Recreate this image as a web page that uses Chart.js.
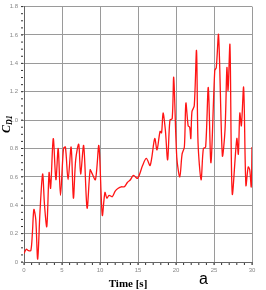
<!DOCTYPE html>
<html>
<head>
<meta charset="utf-8">
<script src="https://cdn.jsdelivr.net/npm/chart.js@4"></script>
<style>
  html, body { margin: 0; padding: 0; background: #fff; }
  #wrap { width: 266px; height: 290px; }
</style>
</head>
<body>
<div id="wrap"><canvas id="myChart" width="266" height="290"></canvas></div>
<script>
/* Cd1 vs time */

let time_s = [0, 0.3, 0.6, 0.9, 1.1, 1.3, 1.55, 1.8, 2.1, 2.45, 2.7, 3.0, 3.3, 3.5, 3.85, 4.2, 4.5, 4.8, 5.2, 5.45,
  5.8, 6.2, 6.5, 6.8, 7.2, 7.45, 7.85, 8.3, 8.7, 8.9, 9.4, 9.85, 10.3, 10.65, 10.9, 11.2, 11.6, 12.0, 12.4, 12.8,
  13.2, 13.6, 14.0, 14.4, 14.95, 15.6, 16.1, 16.6, 17.2, 17.5, 17.9, 18.1, 18.3, 18.6, 18.9, 19.2, 19.5, 19.7, 20.1, 20.5,
  20.8, 21.1, 21.3, 21.6, 21.8, 21.95, 22.1, 22.4, 22.7, 22.9, 23.3, 23.6, 23.9, 24.25, 24.6, 25.1, 25.3, 25.6, 26.1, 26.45,
  26.7, 26.85, 27.1, 27.4, 28.0, 28.2, 28.4, 28.6, 28.9, 29.2, 29.5, 29.7, 29.9, 30.0];

let cd1 = [0.06, 0.09, 0.08, 0.08, 0.2, 0.37, 0.3, 0.02, 0.35, 0.62, 0.4, 0.25, 0.63, 0.52, 0.87, 0.58, 0.8, 0.47, 0.8, 0.81,
  0.58, 0.81, 0.45, 0.72, 0.83, 0.62, 0.82, 0.38, 0.65, 0.63, 0.58, 0.82, 0.33, 0.49, 0.45, 0.47, 0.46, 0.5, 0.52, 0.53,
  0.53, 0.56, 0.58, 0.61, 0.59, 0.68, 0.73, 0.68, 0.87, 0.79, 0.92, 0.91, 1.05, 0.93, 0.72, 1.0, 1.01, 1.3, 0.74, 0.6,
  0.76, 0.81, 1.12, 0.96, 0.95, 0.87, 1.06, 1.1, 1.49, 0.84, 0.58, 0.8, 0.81, 1.23, 0.7, 1.35, 1.37, 1.6, 0.75, 0.93,
  1.37, 1.21, 1.53, 0.48, 0.87, 0.76, 1.05, 0.96, 1.23, 0.54, 0.67, 0.65, 0.53, 0.81];

let x_ticks = [0, 5, 10, 15, 20, 25, 30];
let y_ticks = [0, 0.2, 0.4, 0.6, 0.8, 1, 1.2, 1.4, 1.6, 1.8];

let points = [];
time_s.forEach(function (t, i) {
  points.push({ x: t, y: cd1[i] });
});

// titles + small minor ticks, drawn by hand
let extras = {
  id: "extras",
  afterDraw(chart) {
    let ctx = chart.ctx;
    let xs = chart.scales.x;
    let ys = chart.scales.y;
    let area = chart.chartArea;

    ctx.save();
    ctx.fillStyle = "#333";
    for (let t = 0; t <= 30; t++) {
      let px = xs.getPixelForValue(t);
      ctx.fillRect(px - 0.5, area.bottom + 1, 1, 2);
    }
    for (let v = 0; v <= 1.8001; v += 0.05) {
      let py = ys.getPixelForValue(v);
      ctx.fillRect(area.left - 3, py - 0.5, 2, 1);
    }

    // x title
    ctx.fillStyle = "#000";
    ctx.font = "bold 11px 'Liberation Serif'";
    ctx.textAlign = "center";
    ctx.textBaseline = "alphabetic";
    ctx.fillText("Time [s]", 128, 287);

    // panel letter
    ctx.font = "16px 'Liberation Sans'";
    ctx.textAlign = "left";
    ctx.fillText("a", 199, 284);

    // y title C_D1
    ctx.translate(10, 133);
    ctx.rotate(-Math.PI / 2);
    ctx.font = "bold italic 12px 'Liberation Serif'";
    ctx.textAlign = "left";
    ctx.fillText("C", 0, 0);
    let w = ctx.measureText("C").width;
    ctx.font = "bold italic 8px 'Liberation Serif'";
    ctx.fillText("D1", w, 2);
    ctx.restore();
  }
};

new Chart("myChart", {
  type: "line",
  data: {
    datasets: [
      {
        data: points,
        borderColor: "rgba(255,20,20,1)",
        borderWidth: 1.3,
        pointRadius: 0,
        tension: 0.3,
        fill: false,
      },
    ],
  },
  options: {
    responsive: false,
    animation: false,
    layout: { padding: { top: 6, right: 14, left: 0, bottom: 0 } },
    plugins: { legend: { display: false }, tooltip: { enabled: false } },
    scales: {
      x: {
        type: "linear",
        min: 0,
        max: 30,
        afterBuildTicks(scale) {
          scale.ticks = x_ticks.map((v) => ({ value: v }));
        },
        afterFit(scale) { scale.height = 28; },
        grid: { color: "#9a9a9a", lineWidth: 1, tickLength: 3 },
        border: { color: "#666" },
        ticks: { color: "#888", padding: 2, maxRotation: 0, font: { size: 6, family: "'Liberation Sans'" } },
      },
      y: {
        min: 0,
        max: 1.8,
        afterBuildTicks(scale) {
          scale.ticks = y_ticks.map((v) => ({ value: v }));
        },
        afterFit(scale) { scale.width = 24; },
        grid: { color: "#9a9a9a", lineWidth: 1, tickLength: 3 },
        border: { color: "#666" },
        ticks: { color: "#888", padding: 3, font: { size: 6, family: "'Liberation Sans'" } },
      },
    },
  },
  plugins: [extras],
});
</script>
</body>
</html>
